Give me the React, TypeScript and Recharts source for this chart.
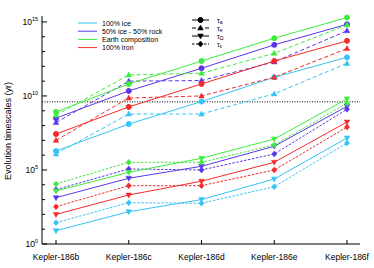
import { LineChart, Line, XAxis, YAxis, ReferenceLine } from "recharts";

// planets on the x axis
const categories = ["Kepler-186b", "Kepler-186c", "Kepler-186d", "Kepler-186e", "Kepler-186f"];

// all values are log10(timescale / yr)
const iceTauA = [6.28, 8.1, 9.62, 11.26, 12.61];
const halfTauA = [8.5, 10.34, 11.87, 13.45, 14.84];
const earthTauA = [8.92, 10.81, 12.36, 13.9, 15.3];
const ironTauA = [7.43, 9.26, 10.81, 12.36, 13.72];

const iceTauE = [6.08, 8.78, 8.78, 10.14, 12.2];
const halfTauE = [8.2, 11.0, 11.04, 12.3, 14.4];
const earthTauE = [8.7, 11.42, 11.53, 12.88, 14.8];
const ironTauE = [7.0, 9.86, 10.0, 11.26, 13.2];

const iceTauO = [0.9, 2.18, 3.0, 4.39, 7.16];
const halfTauO = [3.13, 4.44, 5.25, 6.6, 9.3];
const earthTauO = [3.58, 4.84, 5.79, 7.09, 9.8];
const ironTauO = [2.0, 3.31, 4.24, 5.52, 8.24];

const iceTauEps = [1.44, 2.79, 2.75, 3.87, 6.82];
const halfTauEps = [3.67, 5.07, 5.0, 6.08, 9.1];
const earthTauEps = [4.05, 5.52, 5.52, 6.69, 9.5];
const ironTauEps = [2.52, 3.94, 3.94, 5.0, 7.9];

const systemAge = 9.6; // log10(4 Gyr)

const yTicks = [0, 1, 2, 3, 4, 5, 6, 7, 8, 9, 10, 11, 12, 13, 14, 15];
const yLabelTicks = [0, 5, 10, 15];

const COL = {
  ice: "#35c4f4",
  half: "#5a36ea",
  earth: "#3ded3d",
  iron: "#f42a2a",
};

const compositions = [
  { key: "ice", label: "100% ice", color: COL.ice, a: iceTauA, e: iceTauE, o: iceTauO, eps: iceTauEps },
  { key: "half", label: "50% ice - 50% rock", color: COL.half, a: halfTauA, e: halfTauE, o: halfTauO, eps: halfTauEps },
  { key: "earth", label: "Earth composition", color: COL.earth, a: earthTauA, e: earthTauE, o: earthTauO, eps: earthTauEps },
  { key: "iron", label: "100% iron", color: COL.iron, a: ironTauA, e: ironTauE, o: ironTauO, eps: ironTauEps },
];

const timescales = [
  { key: "a", sub: "a", dash: undefined, shape: "circle" },
  { key: "e", sub: "e", dash: "4 2.5", shape: "up" },
  { key: "o", sub: "Ω", dash: undefined, shape: "down" },
  { key: "eps", sub: "ε", dash: "2.5 1.5", shape: "diamond" },
];

const data = categories.map((name, i) => {
  const row: Record<string, number | string> = { name };
  compositions.forEach((c) => {
    timescales.forEach((t) => {
      row[`${c.key}_${t.key}`] = (c as any)[t.key][i];
    });
  });
  return row;
});

const FONT = "'Liberation Sans', Arial, Helvetica, sans-serif";

function Marker({ shape, cx, cy, color }: { shape: string; cx: number; cy: number; color: string }) {
  if (shape === "circle") return <circle cx={cx} cy={cy} r={2.5} fill={color} stroke={color} />;
  if (shape === "up")
    return <polygon points={`${cx},${cy - 3} ${cx - 2.8},${cy + 2} ${cx + 2.8},${cy + 2}`} fill={color} stroke={color} strokeWidth={0.5} />;
  if (shape === "down")
    return <polygon points={`${cx},${cy + 3} ${cx - 2.8},${cy - 2} ${cx + 2.8},${cy - 2}`} fill={color} stroke={color} strokeWidth={0.5} />;
  return <polygon points={`${cx},${cy - 3} ${cx + 2.6},${cy} ${cx},${cy + 3} ${cx - 2.6},${cy}`} fill={color} stroke={color} strokeWidth={0.5} />;
}

const makeDot = (shape: string, color: string, id: string) => (p: any) => (
  <Marker key={`${id}-${p.index}`} shape={shape} cx={p.cx} cy={p.cy} color={color} />
);

function YTick({ x, y, payload }: any) {
  const v = payload.value;
  const major = yLabelTicks.includes(v);
  return (
    <g>
      <line x1={x} y1={y} x2={x + (major ? 5 : 3)} y2={y} stroke="#000" strokeWidth={1} />
      {major && (
        <text x={x - 4} y={y + 3} textAnchor="end" fontSize={8.5} fontFamily={FONT} fill="#000">
          10<tspan dy={-4} fontSize={5.5}>{v}</tspan>
        </text>
      )}
    </g>
  );
}

function XTick({ x, y, payload }: any) {
  return (
    <g>
      <line x1={x} y1={y} x2={x} y2={y - 4} stroke="#000" strokeWidth={1} />
      <text x={x} y={y + 16} textAnchor="middle" fontSize={8.5} fontFamily={FONT} fill="#000">
        {payload.value}
      </text>
    </g>
  );
}

export default function App() {
  return (
    <div style={{ position: "absolute", left: 0, top: 0, width: 374, height: 268, background: "#fff", fontFamily: FONT }}>
      <LineChart width={374} height={268} data={data} margin={{ top: 16, right: 14, bottom: 0, left: 0 }}>
        <XAxis
          dataKey="name"
          height={24}
          padding={{ left: 14, right: 13 }}
          stroke="#000"
          tickLine={false}
          tickSize={0}
          tickMargin={0}
          tick={<XTick />}
          interval={0}
        />
        <XAxis
          xAxisId="top"
          dataKey="name"
          orientation="top"
          height={0}
          padding={{ left: 14, right: 13 }}
          stroke="#000"
          mirror
          tickSize={4}
          tick={false}
          interval={0}
        />
        <YAxis
          type="number"
          domain={[0, 15.4]}
          ticks={yTicks}
          width={42}
          stroke="#000"
          tickLine={false}
          tickSize={0}
          tickMargin={0}
          tick={<YTick />}
          interval={0}
        />
        <YAxis
          yAxisId="r"
          type="number"
          orientation="right"
          domain={[0, 15.4]}
          ticks={yTicks}
          width={0}
          stroke="#000"
          mirror
          tickSize={4}
          tick={false}
          interval={0}
        />
        <ReferenceLine y={systemAge} stroke="#000" strokeWidth={1} strokeDasharray="1 1.5" />
        {compositions.map((c) =>
          timescales.map((t) => {
            const id = `${c.key}_${t.key}`;
            return (
              <Line
                key={id}
                dataKey={id}
                type="linear"
                stroke={c.color}
                strokeWidth={1}
                strokeDasharray={t.dash}
                dot={makeDot(t.shape, c.color, id)}
                activeDot={false}
                isAnimationActive={false}
              />
            );
          })
        )}
      </LineChart>

      <svg width={374} height={268} style={{ position: "absolute", left: 0, top: 0, pointerEvents: "none" }}>
        <text
          transform="translate(11,131) rotate(-90)"
          textAnchor="middle"
          fontSize={9}
          fontFamily={FONT}
          fill="#000"
        >
          Evolution timescales (yr)
        </text>
        {compositions.map((c, i) => (
          <g key={c.key}>
            <line x1={78} x2={97} y1={23 + i * 8.2} y2={23 + i * 8.2} stroke={c.color} strokeWidth={1} />
            <text x={102} y={25.5 + i * 8.2} fontSize={7} fontFamily={FONT} fill="#000">
              {c.label}
            </text>
          </g>
        ))}
        {timescales.map((t, i) => (
          <g key={t.key}>
            <line x1={192} x2={209} y1={20 + i * 8} y2={20 + i * 8} stroke="#000" strokeWidth={1} strokeDasharray={t.dash} />
            <Marker shape={t.shape} cx={200.5} cy={20 + i * 8} color="#000" />
            <text x={217} y={22.5 + i * 8} fontSize={7} fontFamily={FONT} fill="#000">
              τ<tspan dy={1.5} fontSize={5}>{t.sub}</tspan>
            </text>
          </g>
        ))}
      </svg>
    </div>
  );
}
